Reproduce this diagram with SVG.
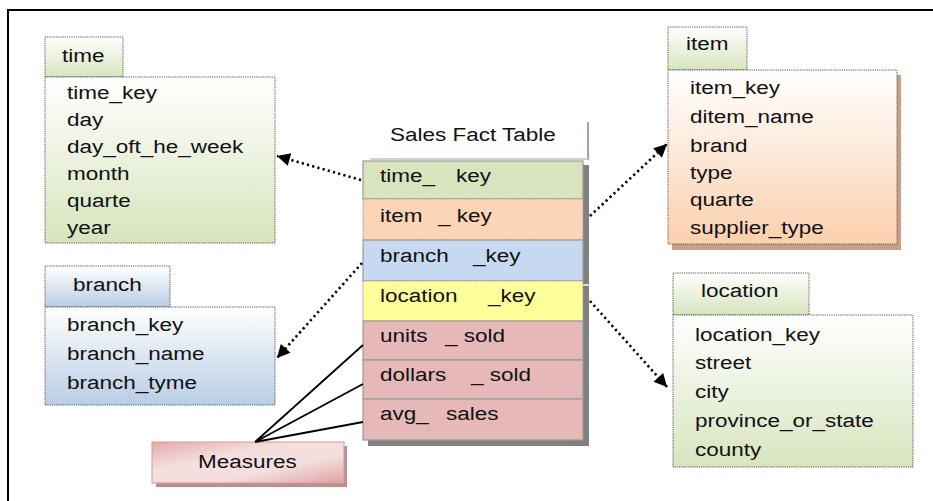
<svg xmlns="http://www.w3.org/2000/svg" width="933" height="501" viewBox="0 0 933 501">
  <style>
    .t { font-family: "Liberation Sans", Arial, sans-serif; font-size: 18px; fill: #111; white-space: pre; }
    .box { stroke: #555; stroke-width: 1; stroke-dasharray: 1.2 1; }
    .row { stroke: #9a9a9a; stroke-width: 1.2; }
    .dot { fill: none; stroke: #000; stroke-width: 2.6; stroke-dasharray: 2.2 3.2; }
    .solid { fill: none; stroke: #000; stroke-width: 1.8; }
  </style>
  <defs>
    <linearGradient id="gGreen" x1="0" y1="0" x2="0" y2="1">
      <stop offset="0" stop-color="#ffffff"/>
      <stop offset="1" stop-color="#d7e4bd"/>
    </linearGradient>
    <linearGradient id="gBlue" x1="0" y1="0" x2="0" y2="1">
      <stop offset="0" stop-color="#ffffff"/>
      <stop offset="1" stop-color="#b9cde5"/>
    </linearGradient>
    <linearGradient id="gPeach" x1="0" y1="0" x2="0" y2="1">
      <stop offset="0" stop-color="#ffffff"/>
      <stop offset="1" stop-color="#fbd0ae"/>
    </linearGradient>
    <linearGradient id="gPink" x1="0" y1="0" x2="1" y2="1">
      <stop offset="0" stop-color="#e3aaaa"/>
      <stop offset="0.35" stop-color="#f4dede"/>
      <stop offset="0.65" stop-color="#f4dede"/>
      <stop offset="1" stop-color="#dea2a2"/>
    </linearGradient>
    <marker id="arrow" viewBox="0 0 10 10" refX="10" refY="5" markerWidth="5.5" markerHeight="5" markerUnits="strokeWidth" orient="auto">
      <path d="M0,0 L10,5 L0,10 Z" fill="#000"/>
    </marker>
  </defs>

  <rect width="933" height="501" fill="#fff"/>
  <!-- page frame -->
  <rect x="8" y="10" width="940" height="500" fill="none" stroke="#000" stroke-width="2"/>

  <!-- time dimension -->
  <g id="time">
    <rect class="box" x="45" y="37" width="78" height="40" fill="url(#gGreen)"/>
    <rect class="box" x="45" y="77" width="230" height="166" fill="url(#gGreen)"/>
    <text class="t" transform="translate(62,62) scale(1.25,1)">time</text>
    <text class="t" transform="translate(67,99) scale(1.25,1)">time_key</text>
    <text class="t" transform="translate(67,126) scale(1.25,1)">day</text>
    <text class="t" transform="translate(67,153) scale(1.25,1)">day_oft_he_week</text>
    <text class="t" transform="translate(67,180) scale(1.25,1)">month</text>
    <text class="t" transform="translate(67,207) scale(1.25,1)">quarte</text>
    <text class="t" transform="translate(67,234) scale(1.25,1)">year</text>
  </g>

  <!-- branch dimension -->
  <g id="branch">
    <rect class="box" x="45" y="266" width="125" height="41" fill="url(#gBlue)"/>
    <rect class="box" x="45" y="307" width="230" height="98" fill="url(#gBlue)"/>
    <text class="t" transform="translate(73,291) scale(1.25,1)">branch</text>
    <text class="t" transform="translate(67,331) scale(1.25,1)">branch_key</text>
    <text class="t" transform="translate(67,360) scale(1.25,1)">branch_name</text>
    <text class="t" transform="translate(67,389) scale(1.25,1)">branch_tyme</text>
  </g>

  <!-- item dimension -->
  <g id="item">
    <rect x="672" y="75" width="229" height="175" fill="#c9a085"/>
    <rect class="box" x="668" y="27" width="79" height="43" fill="url(#gGreen)"/>
    <rect class="box" x="668" y="70" width="229" height="174" fill="url(#gPeach)"/>
    <text class="t" transform="translate(686,50) scale(1.25,1)">item</text>
    <text class="t" transform="translate(690,94) scale(1.25,1)">item_key</text>
    <text class="t" transform="translate(690,123) scale(1.25,1)">ditem_name</text>
    <text class="t" transform="translate(690,152) scale(1.25,1)">brand</text>
    <text class="t" transform="translate(690,179) scale(1.25,1)">type</text>
    <text class="t" transform="translate(690,206) scale(1.25,1)">quarte</text>
    <text class="t" transform="translate(690,234) scale(1.25,1)">supplier_type</text>
  </g>

  <!-- location dimension -->
  <g id="location">
    <rect class="box" x="673" y="273" width="136" height="42" fill="url(#gGreen)"/>
    <rect class="box" x="673" y="315" width="240" height="152" fill="url(#gGreen)"/>
    <text class="t" transform="translate(701,297) scale(1.25,1)">location</text>
    <text class="t" transform="translate(695,341) scale(1.25,1)">location_key</text>
    <text class="t" transform="translate(695,369) scale(1.25,1)">street</text>
    <text class="t" transform="translate(695,398) scale(1.25,1)">city</text>
    <text class="t" transform="translate(695,427) scale(1.25,1)">province_or_state</text>
    <text class="t" transform="translate(695,456) scale(1.25,1)">county</text>
  </g>

  <!-- fact table -->
  <g id="sales-fact">
    <line x1="588" y1="122" x2="588" y2="160" stroke="#b89a9a" stroke-width="2"/>
    <line x1="370" y1="159" x2="588" y2="159" stroke="#d8cccc" stroke-width="2"/>
    <text class="t" transform="translate(390,141) scale(1.25,1)">Sales Fact Table</text>
    <!-- drop shadow -->
    <rect x="368" y="165" width="221" height="281" fill="#808080"/>
    <line x1="583" y1="285" x2="590" y2="285" stroke="#fff" stroke-width="1.5"/>
    <rect class="row" x="363" y="161" width="220" height="38" fill="#d7e4bd"/>
    <rect class="row" x="363" y="199" width="220" height="41" fill="#fbd5b5" stroke-dasharray="1.2 1"/>
    <rect class="row" x="363" y="240" width="220" height="41" fill="#c6d9f1"/>
    <rect class="row" x="363" y="281" width="220" height="40" fill="#ffff99" stroke-dasharray="1.2 1"/>
    <rect class="row" x="363" y="321" width="220" height="39" fill="#e6b9b8"/>
    <rect class="row" x="363" y="360" width="220" height="39" fill="#e6b9b8"/>
    <rect class="row" x="363" y="399" width="220" height="41" fill="#e6b9b8"/>
    <text class="t" transform="translate(380,182) scale(1.25,1)">time_   <tspan x="60.8">key</tspan></text>
    <text class="t" transform="translate(380,222) scale(1.25,1)">item  <tspan x="46.4">_ key</tspan></text>
    <text class="t" transform="translate(380,262) scale(1.25,1)">branch   <tspan x="74.4">_key</tspan></text>
    <text class="t" transform="translate(380,302) scale(1.25,1)">location    <tspan x="86.4">_key</tspan></text>
    <text class="t" transform="translate(380,342) scale(1.25,1)">units  <tspan x="52">_ sold</tspan></text>
    <text class="t" transform="translate(380,381) scale(1.25,1)">dollars   <tspan x="72.8">_ sold</tspan></text>
    <text class="t" transform="translate(380,420) scale(1.25,1)">avg_  <tspan x="52.8">sales</tspan></text>
  </g>

  <!-- measures label -->
  <g id="measures">
    <rect x="156" y="446" width="191" height="41" fill="#b89090"/>
    <rect x="152" y="442" width="192" height="41" fill="url(#gPink)" stroke="#d79a9a" stroke-width="1"/>
    <text class="t" transform="translate(198,468) scale(1.25,1)">Measures</text>
  </g>

  <!-- connectors -->
  <g id="connectors">
    <path class="dot" d="M361,180 L277,156" marker-end="url(#arrow)"/>
    <path class="dot" d="M362,263 L277,358" marker-end="url(#arrow)"/>
    <path class="dot" d="M590,216 L667,144" marker-end="url(#arrow)"/>
    <path class="dot" d="M590,301 L667,387" marker-end="url(#arrow)"/>
    <path class="solid" d="M255,442 L363,345 M255,442 L363,384 M255,442 L363,422"/>
  </g>
</svg>
